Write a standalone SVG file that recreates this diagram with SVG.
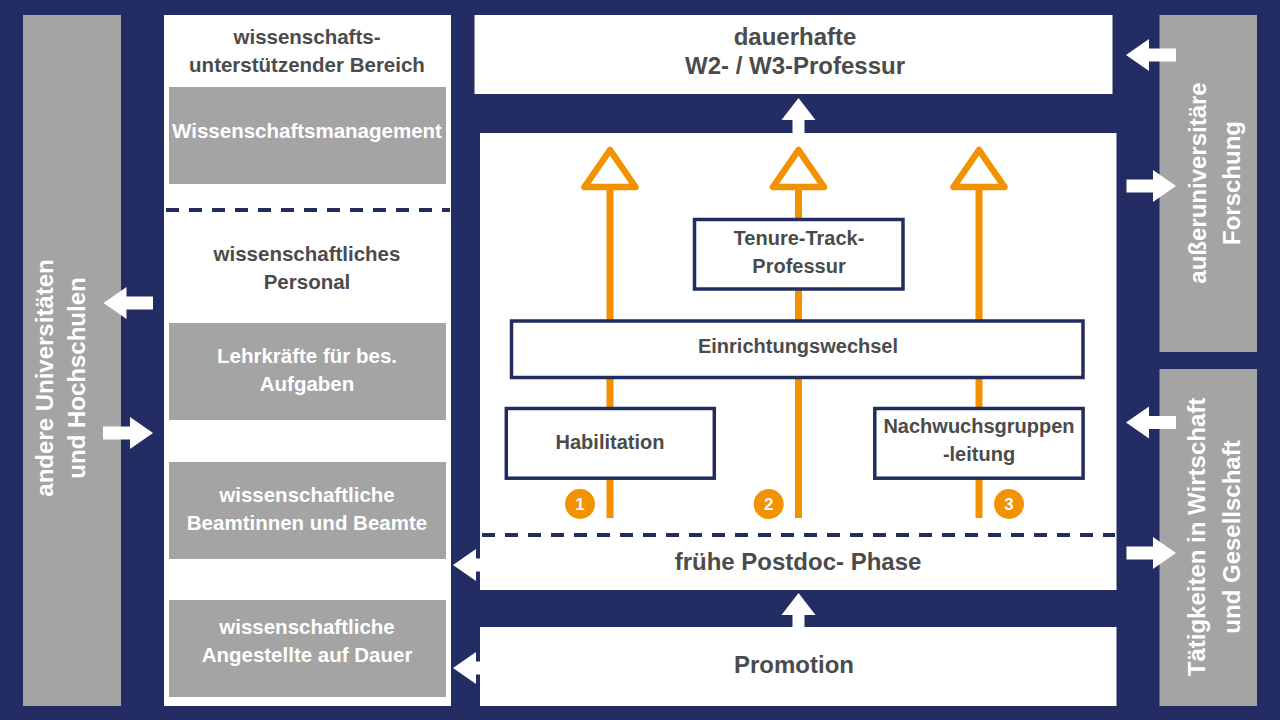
<svg xmlns="http://www.w3.org/2000/svg" width="1280" height="720" viewBox="0 0 1280 720">
<style>
.t{font-family:"Liberation Sans",Arial,sans-serif;font-weight:bold;text-anchor:middle}
.dk{fill:#4b4b4b}
.wt{fill:#ffffff}
.s20{font-size:20px}
.s205{font-size:20.5px}
.s24{font-size:24px}
.gray{fill:#a4a4a4}
.white{fill:#ffffff}
.box{fill:#ffffff;stroke:#232c5f;stroke-width:3.5}
.dash{stroke:#232c5f;stroke-width:4;stroke-dasharray:13 10;fill:none}
.orl{stroke:#f39200;stroke-width:7;fill:none}
.ort{stroke:#f39200;stroke-width:6.5;fill:none;stroke-linejoin:round}
.num{fill:#f39200}
.arr{fill:#ffffff}
</style>
<rect x="0" y="0" width="1280" height="720" fill="#242d63"/>

<g id="andere-hochschulen">
<rect class="gray" x="23" y="15" width="98" height="691"/>
<text class="t wt s24" transform="translate(53,378) rotate(-90)">andere Universitäten</text>
<text class="t wt s24" transform="translate(85,378) rotate(-90)">und Hochschulen</text>
</g>

<g id="left-panel">
<rect class="white" x="164" y="15" width="287" height="691"/>
<text class="t dk s205" x="307" y="44">wissenschafts-</text>
<text class="t dk s205" x="307" y="72">unterstützender Bereich</text>
<line class="dash" x1="166" y1="210" x2="450" y2="210"/>
<text class="t dk s205" x="307" y="261">wissenschaftliches</text>
<text class="t dk s205" x="307" y="289">Personal</text>
</g>

<g id="wissenschaftsmanagement">
<rect class="gray" x="169" y="87" width="277" height="97"/>
<text class="t wt s205" x="307" y="138">Wissenschaftsmanagement</text>
</g>
<g id="lehrkraefte">
<rect class="gray" x="169" y="323" width="277" height="97"/>
<text class="t wt s205" x="307" y="363">Lehrkräfte für bes.</text>
<text class="t wt s205" x="307" y="391">Aufgaben</text>
</g>
<g id="beamte">
<rect class="gray" x="169" y="462" width="277" height="97"/>
<text class="t wt s205" x="307" y="502">wissenschaftliche</text>
<text class="t wt s205" x="307" y="530">Beamtinnen und Beamte</text>
</g>
<g id="angestellte">
<rect class="gray" x="169" y="600" width="277" height="97"/>
<text class="t wt s205" x="307" y="634">wissenschaftliche</text>
<text class="t wt s205" x="307" y="662">Angestellte auf Dauer</text>
</g>

<g id="professur">
<rect class="white" x="474.5" y="15" width="638" height="79"/>
<text class="t dk s24" x="795" y="45">dauerhafte</text>
<text class="t dk s24" x="795" y="74">W2- / W3-Professur</text>
</g>

<g id="postdoc-panel">
<rect class="white" x="480" y="133" width="636.5" height="457"/>
<line class="dash" x1="482" y1="535" x2="1115" y2="535"/>
<text class="t dk s24" x="798" y="570">frühe Postdoc- Phase</text>
</g>

<g id="promotion">
<rect class="white" x="480" y="627" width="636.5" height="79"/>
<text class="t dk s24" x="794" y="673">Promotion</text>
</g>

<g id="ausseruniversitaere-forschung">
<rect class="gray" x="1159.5" y="15" width="97.5" height="337"/>
<text class="t wt s24" transform="translate(1206,183) rotate(-90)">außeruniversitäre</text>
<text class="t wt s24" transform="translate(1240,183) rotate(-90)">Forschung</text>
</g>

<g id="wirtschaft-gesellschaft">
<rect class="gray" x="1159.5" y="369" width="97.5" height="337"/>
<text class="t wt s24" transform="translate(1205,537) rotate(-90)">Tätigkeiten in Wirtschaft</text>
<text class="t wt s24" transform="translate(1240,537) rotate(-90)">und Gesellschaft</text>
</g>

<g id="connectors">
<line class="orl" x1="610" y1="189" x2="610" y2="518"/>
<line class="orl" x1="798.5" y1="189" x2="798.5" y2="518"/>
<line class="orl" x1="979" y1="189" x2="979" y2="518"/>
<polygon class="ort" points="610,150 584.5,187 635.5,187"/>
<polygon class="ort" points="798.5,150 773,187 824,187"/>
<polygon class="ort" points="979,150 953.5,187 1004.5,187"/>
<polygon class="arr" points="798.5,98 815.5,120 804.5,120 804.5,133 792.5,133 792.5,120 781.5,120"/>
<polygon class="arr" points="798.5,593 815.5,615 804.5,615 804.5,627 792.5,627 792.5,615 781.5,615"/>
<polygon class="arr" points="103.5,303 126.5,287 126.5,296.5 153,296.5 153,309.5 126.5,309.5 126.5,319"/>
<polygon class="arr" points="153,433 130,417 130,426.5 103,426.5 103,439.5 130,439.5 130,449"/>
<polygon class="arr" points="453,565 476,549 476,558.5 481,558.5 481,571.5 476,571.5 476,581"/>
<polygon class="arr" points="453,668 476,652 476,661.5 481,661.5 481,674.5 476,674.5 476,684"/>
<polygon class="arr" points="1126,55 1149,39 1149,48.5 1176,48.5 1176,61.5 1149,61.5 1149,71"/>
<polygon class="arr" points="1176,186 1153,170 1153,179.5 1126.5,179.5 1126.5,192.5 1153,192.5 1153,202"/>
<polygon class="arr" points="1126,422.5 1149,406.5 1149,416 1176,416 1176,429 1149,429 1149,438.5"/>
<polygon class="arr" points="1176,553 1153,537 1153,546.5 1126.5,546.5 1126.5,559.5 1153,559.5 1153,569"/>
</g>

<g id="tenure-track">
<rect class="box" x="694.5" y="219.5" width="208.5" height="69.5"/>
<text class="t dk s20" x="799" y="245">Tenure-Track-</text>
<text class="t dk s20" x="799" y="273">Professur</text>
</g>
<g id="einrichtungswechsel">
<rect class="box" x="511.5" y="321" width="571.5" height="56.5"/>
<text class="t dk s20" x="798" y="353">Einrichtungswechsel</text>
</g>
<g id="habilitation">
<rect class="box" x="506.3" y="408.5" width="208" height="69.7"/>
<text class="t dk s20" x="610" y="449">Habilitation</text>
</g>
<g id="nachwuchsgruppen">
<rect class="box" x="874.8" y="408.5" width="208.3" height="69.7"/>
<text class="t dk s20" x="979" y="433">Nachwuchsgruppen</text>
<text class="t dk s20" x="979" y="461">-leitung</text>
</g>

<g id="marker-1">
<circle class="num" cx="580" cy="504" r="15"/>
<text class="t wt" x="580" y="510" font-size="17">1</text>
</g>
<g id="marker-2">
<circle class="num" cx="768.7" cy="504" r="15"/>
<text class="t wt" x="768.7" y="510" font-size="17">2</text>
</g>
<g id="marker-3">
<circle class="num" cx="1009" cy="504" r="15"/>
<text class="t wt" x="1009" y="510" font-size="17">3</text>
</g>
</svg>
